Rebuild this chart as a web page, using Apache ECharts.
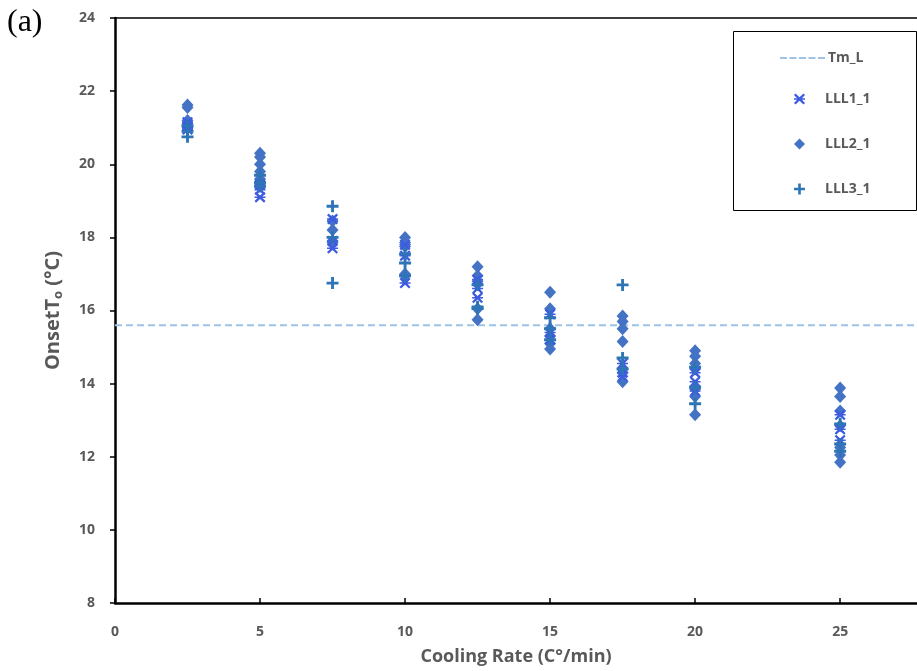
<!DOCTYPE html>
<html>
<head>
<meta charset="utf-8">
<script src="https://cdn.jsdelivr.net/npm/echarts@6/dist/echarts.min.js"></script>
<style>
  html, body { margin: 0; padding: 0; background: #fff; }
  #chart { width: 917px; height: 671px; }
  #tag { position: absolute; left: 7px; top: 2px; font-family: "Liberation Serif", "DejaVu Serif", serif; font-size: 32px; color: #000; }
</style>
</head>
<body>
<div id="chart"></div>
<div id="tag">(a)</div>
<script>
// Cooling rates (°C/min) and onset temperatures per sample group
const rates = [2.5, 5, 7.5, 10, 12.5, 15, 17.5, 20, 25];

const lll1 = [
  [21.15, 21.0, 20.95],
  [19.45, 19.3, 19.1],
  [18.5, 17.9, 17.7],
  [17.8, 17.5, 16.75],
  [16.85, 16.6, 16.35],
  [15.9, 15.4, 15.2],
  [14.55, 14.3, 14.2],
  [14.3, 14.05, 13.8],
  [13.15, 12.75, 12.45]
];
const lll2 = [
  [21.62, 21.55, 21.2, 21.1, 21.0],
  [20.3, 20.2, 20.0, 19.8, 19.6, 19.4],
  [18.45, 18.2, 17.9, 17.85],
  [18.0, 17.85, 17.75, 17.0, 16.95],
  [17.2, 16.95, 16.8, 16.05, 15.75],
  [16.5, 16.05, 15.5, 15.3, 15.1, 14.95],
  [15.85, 15.7, 15.5, 15.15, 14.4, 14.3, 14.05],
  [14.9, 14.75, 14.55, 14.4, 13.85, 13.65, 13.15],
  [13.88, 13.65, 13.25, 12.85, 12.25, 12.05, 11.85]
];
const lll3 = [
  [21.05, 20.9, 20.75],
  [19.7, 19.5, 19.4],
  [18.85, 18.0, 16.75],
  [17.55, 17.3, 16.95],
  [16.7, 16.1, 16.05],
  [15.8, 15.5, 15.2],
  [16.7, 14.7, 14.4],
  [14.45, 13.9, 13.45],
  [12.9, 12.35, 12.15]
];
const tmL = 15.6;
const xRange = [0, 27.65];
const yTicks = [8, 10, 12, 14, 16, 18, 20, 22, 24];

function pairs(groups) {
  const out = [];
  groups.forEach((vals, i) => vals.forEach(v => out.push([rates[i], v])));
  return out;
}

const plusPath = 'path://M3.8,0H6.2V3.8H10V6.2H6.2V10H3.8V6.2H0V3.8H3.8Z';
const crossPath = 'path://M1.4,0L5,3.4L8.6,0L10,1.4L6.6,5L10,8.6L8.6,10L5,6.6L1.4,10L0,8.6L3.4,5L0,1.4Z M0,4.3H10V5.7H0Z';
const dashPath = 'path://M0,0H7V2H0Z M9.5,0H16.5V2H9.5Z M19,0H26V2H19Z M28.5,0H35.5V2H28.5Z M38,0H45V2H38Z';

const gray = '#595959';
const font = '"Open Sans", "Liberation Sans", sans-serif';
const legendText = { color: gray, fontFamily: font, fontWeight: 'bold', fontSize: 14 };

const chart = echarts.init(document.getElementById('chart'));
chart.setOption({
  animation: false,
  backgroundColor: '#fff',
  grid: { left: 115, top: 18, right: 0, bottom: 68, containLabel: false },
  xAxis: [{
    type: 'value', min: xRange[0], max: xRange[1], interval: 5,
    axisLine: { show: true, lineStyle: { color: '#000', width: 2.5 } },
    axisTick: { show: true, inside: true, length: 5, lineStyle: { color: '#000', width: 1.5 } },
    axisLabel: { color: gray, fontFamily: font, fontWeight: 'bold', fontSize: 14, margin: 22,
      showMaxLabel: false },
    splitLine: { show: false },
    name: 'Cooling Rate (C°/min)', nameLocation: 'middle', nameGap: 45,
    nameTextStyle: { color: gray, fontFamily: font, fontWeight: 'bold', fontSize: 18 }
  }, {
    type: 'value', position: 'top', min: xRange[0], max: xRange[1],
    axisLine: { show: true, onZero: false, lineStyle: { color: '#000', width: 1.5 } },
    axisTick: { show: false }, axisLabel: { show: false }, splitLine: { show: false }
  }],
  yAxis: {
    type: 'value', min: yTicks[0], max: yTicks[yTicks.length - 1], interval: 2,
    axisLine: { show: true, lineStyle: { color: '#000', width: 2.5 } },
    axisTick: { show: true, length: 5, lineStyle: { color: '#000', width: 1.5 } },
    axisLabel: { color: gray, fontFamily: font, fontWeight: 'bold', fontSize: 14, margin: 20 },
    splitLine: { show: false },
    name: '{a|OnsetT}{s|o}{a| (°C)}', nameLocation: 'middle', nameGap: 50,
    nameTextStyle: {
      rich: {
        a: { color: gray, fontFamily: font, fontWeight: 'bold', fontSize: 20 },
        s: { color: gray, fontFamily: font, fontWeight: 'bold', fontSize: 13, padding: [10, 0, 0, 0] }
      }
    }
  },
  graphic: [{
    type: 'rect', z: 10,
    shape: { x: 733.5, y: 31.5, width: 183, height: 179 },
    style: { fill: '#fff', stroke: '#000', lineWidth: 1 }
  }],
  legend: [{
    orient: 'vertical', left: 780, top: 51, padding: 0,
    itemWidth: 45, itemHeight: 2, z: 20,
    textStyle: Object.assign({}, legendText, { padding: [0, 0, 0, -2] }),
    data: [{ name: 'Tm_L', icon: dashPath }]
  }, {
    orient: 'vertical', left: 794, top: 92, padding: 0,
    itemWidth: 11, itemHeight: 11, itemGap: 31, z: 20,
    textStyle: Object.assign({}, legendText, { padding: [0, 0, 0, 15] }),
    data: [
      { name: 'LLL1_1', icon: crossPath },
      { name: 'LLL2_1', icon: 'diamond' },
      { name: 'LLL3_1', icon: plusPath }
    ]
  }],
  series: [
    {
      name: 'Tm_L', type: 'line', xAxisIndex: 0,
      data: [[xRange[0], tmL], [xRange[1], tmL]],
      symbol: 'none', z: 1,
      lineStyle: { color: '#9DC3E6', width: 2, type: [7, 4] },
      itemStyle: { color: '#9DC3E6' }
    },
    {
      name: 'LLL1_1', type: 'scatter', data: pairs(lll1),
      symbol: crossPath, symbolSize: 11, z: 3,
      itemStyle: { color: '#3D5CE0', opacity: 1 }
    },
    {
      name: 'LLL2_1', type: 'scatter', data: pairs(lll2),
      symbol: 'diamond', symbolSize: [12, 13], z: 2,
      itemStyle: { color: '#4472C4', opacity: 1 }
    },
    {
      name: 'LLL3_1', type: 'scatter', data: pairs(lll3),
      symbol: plusPath, symbolSize: 12, z: 4,
      itemStyle: { color: '#2E75B6', opacity: 1 }
    }
  ]
});
</script>
</body>
</html>
